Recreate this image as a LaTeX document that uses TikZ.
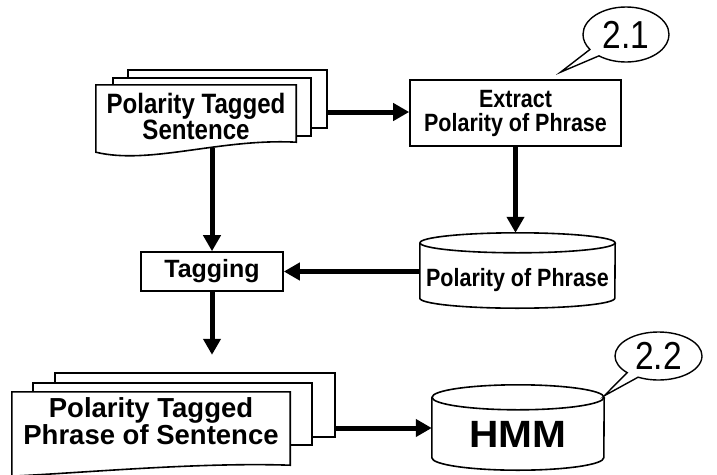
\documentclass[tikz,border=0pt]{standalone}
\usepackage{fontspec}
\setmainfont{Liberation Sans}
\newfontfamily\narrowfont[FakeStretch=0.86]{Liberation Sans}
\newfontfamily\widefont[FakeStretch=1.07]{Liberation Sans}
\usetikzlibrary{arrows.meta,shapes.callouts,backgrounds}
\begin{document}
\begin{tikzpicture}[x=1pt,y=-1pt,
box/.style={draw,line width=1.6pt,inner sep=0pt,align=center},
sheet/.style={draw,fill=white,line width=1.6pt},
drum/.style={line width=1.6pt},
flow/.style={line width=5pt,-{Triangle[length=16pt,width=17pt]}},
bubble/.style={ellipse callout,draw,line width=1.4pt,inner sep=0pt,callout pointer arc=18,
  font=\narrowfont\fontsize{39}{40}\selectfont},
midfont/.style={font=\narrowfont\bfseries\fontsize{25}{24}\selectfont}]
\useasboundingbox (0,0) rectangle (717,474);
\clip (0,0) rectangle (717,474);

\node[align=center,inner sep=0pt,minimum width=200pt,minimum height=63pt,
  font=\narrowfont\bfseries\fontsize{28}{26}\selectfont] (sent) at (196,116.5) {Polarity Tagged\\Sentence};
\coordinate (sentR) at (327,112);
\node[box,midfont,minimum width=211pt,minimum height=66pt] (extract) at (515.5,113) {Extract\\Polarity of Phrase};
\node[bubble,minimum width=86pt,minimum height=55pt,
  callout absolute pointer={([xshift=45pt,yshift=7pt]extract.north)}] (sec21) at (626,34.5) {2.1};
\node[midfont,inner sep=0pt,minimum width=195pt,minimum height=55pt] (pol) at (517.5,280.5) {Polarity of Phrase};
\coordinate (polTop) at ([yshift=20pt]pol.north);
\node[box,font=\bfseries\fontsize{25}{24}\selectfont,minimum width=142pt,minimum height=39pt] (tag) at (212,271.5) {Tagging};
\node[align=center,inner sep=0pt,minimum width=278pt,minimum height=58pt,
  font=\bfseries\fontsize{27.5}{25}\selectfont] (phr) at (151,421) {Polarity Tagged\\Phrase of Sentence};
\coordinate (phrR) at (335,428);
\node[inner sep=0pt,minimum width=172pt,minimum height=60pt,text height=27pt,text depth=13pt,
  font=\widefont\bfseries\fontsize{38}{40}\selectfont] (hmm) at (518,440) {HMM};
\node[bubble,minimum width=87pt,minimum height=48pt,
  callout absolute pointer={([yshift=14pt]hmm.north east)}] (sec22) at (658.5,356) {2.2};

\begin{scope}[on background layer]
\draw[sheet] (128,70) rectangle (327,128);
\draw[sheet] (113,78) rectangle (311,136);
\draw[sheet] (sent.north west) -- (sent.north east) -- ([yshift=6pt]sent.south east)
  .. controls +(-76,-4) and +(54,13) .. ([yshift=-4pt]sent.south west) -- cycle;
\draw[sheet] (55,373) rectangle (335,437);
\draw[sheet] (33,383) rectangle (312,445);
\draw[sheet] (phr.north west) -- (phr.north east) -- ([yshift=-15pt]phr.south east)
  .. controls +(-90,-3) and +(80,-4) .. ([yshift=-26pt]phr.south west) -- cycle;
\end{scope}

\draw[drum] ([yshift=10pt]pol.north west) -- ([yshift=10pt]pol.south west)
  arc[start angle=180,end angle=360,x radius=97.5pt,y radius=10pt] -- ([yshift=10pt]pol.north east);
\draw[drum] ([yshift=10pt]pol.north) ellipse[x radius=97.5pt,y radius=10pt];
\draw[drum] ([yshift=12.5pt]hmm.north west) -- ([yshift=12.5pt]hmm.south west)
  arc[start angle=180,end angle=360,x radius=86pt,y radius=12.5pt] -- ([yshift=12.5pt]hmm.north east);
\draw[drum] ([yshift=12.5pt]hmm.north) ellipse[x radius=86pt,y radius=12.5pt];

\draw[flow] (sentR) -- (sentR -| extract.west);
\draw[flow] (extract.south) -- (extract.south |- polTop);
\draw[flow] (pol.west |- tag.east) -- (tag.east);
\draw[flow] (sent.south -| tag.north) -- (tag.north);
\draw[flow,shorten >=37pt] (tag.south) -- (tag.south |- phr.north);
\draw[flow] (phrR) -- (phrR -| hmm.west);
\end{tikzpicture}
\end{document}
